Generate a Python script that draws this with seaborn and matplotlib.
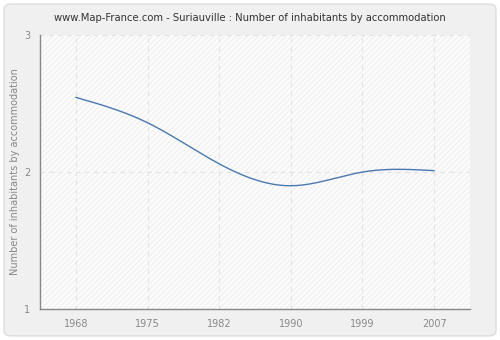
import numpy as np
import pandas as pd
import matplotlib
matplotlib.use("Agg")
import matplotlib.pyplot as plt
from matplotlib.patches import FancyBboxPatch
import seaborn as sns

years = ["1968", "1975", "1982", "1990", "1999", "2007"]
values = [2.545, 2.36, 2.06, 1.90, 2.00, 2.01]
yticks = [1, 2, 3]


def natural_spline(x, y, n=300):
    x = np.asarray(x, float); y = np.asarray(y, float)
    m = len(x); h = np.diff(x)
    A = np.zeros((m, m)); b = np.zeros(m)
    A[0, 0] = A[-1, -1] = 1
    for i in range(1, m - 1):
        A[i, i - 1] = h[i - 1]; A[i, i] = 2 * (h[i - 1] + h[i]); A[i, i + 1] = h[i]
        b[i] = 3 * ((y[i + 1] - y[i]) / h[i] - (y[i] - y[i - 1]) / h[i - 1])
    c = np.linalg.solve(A, b)
    xs = np.linspace(x[0], x[-1], n); ys = np.empty_like(xs)
    for k, t in enumerate(xs):
        i = min(np.searchsorted(x, t, side="right") - 1, m - 2)
        dx = t - x[i]
        bb = (y[i + 1] - y[i]) / h[i] - h[i] * (2 * c[i] + c[i + 1]) / 3
        d = (c[i + 1] - c[i]) / (3 * h[i])
        ys[k] = y[i] + bb * dx + c[i] * dx ** 2 + d * dx ** 3
    return xs, ys


sns.set_theme(style="white")
plt.rcParams['font.family'] = ['DejaVu Sans']

fig = plt.figure(figsize=(5, 3.4), dpi=100)
fig.patch.set_facecolor("white")
bg = FancyBboxPatch((0.008, 0.012), 0.984, 0.976,
                    boxstyle="round,pad=0,rounding_size=0.015",
                    transform=fig.transFigure, facecolor="#f0f0f0",
                    edgecolor="#dddddd", linewidth=1, zorder=-10)
fig.patches.append(bg)

ax = fig.add_axes([0.08, 0.091, 0.86, 0.806])
ax.set_zorder(5)
ax.set_facecolor("#fcfcfc")
ax.add_patch(plt.Rectangle((0, 0), 1, 1, transform=ax.transAxes, facecolor="none",
                           edgecolor="#f1f1f1", hatch="//////", linewidth=0, zorder=0))

xi = np.arange(len(years))
xs, ys = natural_spline(xi, values)
df = pd.DataFrame({"x": xs, "y": ys})
sns.lineplot(data=df, x="x", y="y", ax=ax, color="#4a78b0", linewidth=1.0, zorder=3)

ax.set_xlim(-0.5, len(years) - 0.5)
ax.set_ylim(1, 3)
ax.set_xticks(xi)
ax.set_xticklabels(years)
ax.set_yticks(yticks)
ax.set_yticklabels([str(t) for t in yticks])
ax.tick_params(axis="both", colors="#888888", labelsize=7, length=4, width=0.8,
               direction="out", labelcolor="#888888")
ax.tick_params(axis="x", pad=3)
ax.tick_params(axis="y", pad=3)
ax.set_xlabel("")
ax.set_ylabel("Number of inhabitants by accommodation", fontsize=7, color="#888888", labelpad=3)
ax.grid(True, linestyle=(0, (4, 4)), color="#e2e2e2", linewidth=0.8)
ax.set_axisbelow(True)
for s in ["top", "right"]:
    ax.spines[s].set_visible(False)
for s in ["left", "bottom"]:
    ax.spines[s].set_color("#888888")
    ax.spines[s].set_linewidth(1)

fig.text(0.5, 0.947, "www.Map-France.com - Suriauville : Number of inhabitants by accommodation",
         ha="center", va="center", fontsize=7.2, color="#333333")

fig.savefig("out.png", dpi=100)
